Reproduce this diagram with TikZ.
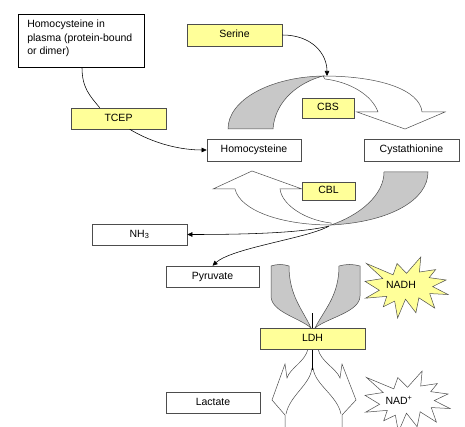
\documentclass[tikz,border=0pt]{standalone}
\usepackage{fontspec}
\setmainfont{Liberation Sans}
\usetikzlibrary{arrows.meta}
\definecolor{yel}{HTML}{FFFF99}
\definecolor{gry}{HTML}{C8C8C8}
\definecolor{edge}{HTML}{4D4D4D}
\tikzset{
  box/.style={draw=edge, line width=0.6pt, fill=white, inner sep=0pt, minimum height=21pt, minimum width=95pt, text height=7.6pt, text depth=2pt},
  ybox/.style={box, fill=yel},
  shp/.style={draw=edge, line width=0.5pt, line join=miter},
  conn/.style={draw=black, line width=0.55pt},
  tip/.style={-{Triangle[length=5pt,width=4.5pt]}},
}
\begin{document}
\begin{tikzpicture}[x=1pt,y=-1pt,font=\fontsize{10.5}{12.5}\selectfont]
\useasboundingbox (0,0) rectangle (465,427);
\clip (0,0) rectangle (465,427);
\fill[white] (0,0) rectangle (465,427);

% CBS curved arrow
\filldraw[shp,fill=gry] (228,129) .. controls (228,100) and (270,77) .. (323,76) .. controls (300,82) and (275,100) .. (273,129) -- cycle;
\filldraw[shp,fill=white] (323,76) .. controls (380,76) and (420,90) .. (422,112) -- (445,112) -- (405,129) -- (357,112) -- (378,112) .. controls (372,95) and (350,82) .. (325,79) -- cycle;

% CBL curved arrow
\filldraw[shp,fill=gry] (428,172) .. controls (428,200) and (390,222) .. (331,225) .. controls (360,215) and (384,195) .. (384,172) -- cycle;
\filldraw[shp,fill=white] (331,225) .. controls (280,225) and (240,210) .. (235,189) -- (213,189) -- (252,171) -- (302,189) -- (280,189) .. controls (282,205) and (305,220) .. (331,223) -- cycle;

\coordinate (cbstop) at (327,76);
\coordinate (cblbot) at (329,226);

% LDH tails (gray) above
\filldraw[shp,fill=gry] (271,266) .. controls (277,264) and (283,264) .. (289,266) .. controls (289,296) and (303,310) .. (311,328) .. controls (300,318) and (271,312) .. (271,296) -- cycle;
\filldraw[shp,fill=gry] (339,266) .. controls (346,264) and (353,264) .. (360,266) -- (360,296) .. controls (360,312) and (327,318) .. (315,328) .. controls (324,310) and (339,296) .. (339,266) -- cycle;
\draw[line width=1pt] (312.5,313) -- (312.5,328);

% LDH arrows (white) below
\draw[shp] (308,349) .. controls (305,362) and (290,368) .. (287,378) -- (285,364) -- (272,400) -- (285,415) -- (285,430);
\draw[shp] (312,368) .. controls (310,385) and (290,395) .. (286,414);
\draw[shp] (318,349) .. controls (321,362) and (336,368) .. (340,378) -- (342,364) -- (356,400) -- (342,415) -- (342,430);
\draw[shp] (313,368) .. controls (315,385) and (337,395) .. (341,414);
\draw[line width=1pt] (312.5,349) -- (312.5,370);

% NADH burst
\begin{scope}[shift={(365,257)}, xscale=83/216, yscale=61/216]
\filldraw[shp,fill=yel] (108,58) -- (145.22,0) -- (141.55,53.25) -- (183.8,44.57) -- (167.02,73.15) -- (210.97,81.37) -- (176.07,104.75) -- (216,132.9) -- (168.37,129.42) -- (181.45,180.95) -- (140.2,144.57) -- (132.47,197.37) -- (105.32,149.35) -- (84.85,216) -- (77.15,156.27) -- (47.62,176.17) -- (56.67,139.37) -- (1.35,145.87) -- (37.22,117.75) -- (0,86.15) -- (46.27,76.17) -- (3.7,22.95) -- (73.12,63.2) -- (83.52,22.95) -- cycle;
\end{scope}
% NAD+ burst
\begin{scope}[shift={(365,371)}, xscale=85/216, yscale=61/216]
\filldraw[shp,fill=white] (108,58) -- (145.22,0) -- (141.55,53.25) -- (183.8,44.57) -- (167.02,73.15) -- (210.97,81.37) -- (176.07,104.75) -- (216,132.9) -- (168.37,129.42) -- (181.45,180.95) -- (140.2,144.57) -- (132.47,197.37) -- (105.32,149.35) -- (84.85,216) -- (77.15,156.27) -- (47.62,176.17) -- (56.67,139.37) -- (1.35,145.87) -- (37.22,117.75) -- (0,86.15) -- (46.27,76.17) -- (3.7,22.95) -- (73.12,63.2) -- (83.52,22.95) -- cycle;
\end{scope}

% nodes
\node[draw=black, line width=0.6pt, fill=white, anchor=north west, inner xsep=9pt, inner ysep=6pt, minimum width=126pt, minimum height=53pt] (plasma) at (18,14) {\parbox[c][41pt][t]{108pt}{\baselineskip=13.5pt Homocysteine in\\ plasma (protein-bound\\ or dimer)}};
\node[ybox, minimum height=22pt] (serine) at (234.5,35) {Serine};
\node[ybox] (tcep) at (118.5,118.5) {TCEP};
\node[box, minimum width=94pt, minimum height=22pt] (homo) at (254,150) {Homocysteine};
\node[box, minimum height=22pt] (cyst) at (411.5,150) {Cystathionine};
\node[ybox, minimum width=52pt, minimum height=20pt] (cbs) at (328,108) {CBS};
\node[ybox, minimum width=53pt, minimum height=18pt] (cbl) at (328.5,191) {CBL};
\node[box] (nh3) at (139.5,234.5) {NH\textsubscript{3}};
\node[box, minimum width=93pt] (pyr) at (212.5,276.5) {Pyruvate};
\node[box, minimum width=94pt] (lac) at (213,402.5) {Lactate};
\node[ybox, minimum width=105pt] (ldh) at (312.5,338.5) {LDH};
\node (nadh) at (401,285) {NADH};
\node (nadp) at (399,400) {NAD\textsuperscript{+}};

% connectors
\draw[conn] ([xshift=64pt]plasma.south west) .. controls +(0,20) and +(-10,-12) .. ([xshift=29pt]tcep.north west);
\draw[conn,tip] ([xshift=59pt]tcep.south west) .. controls +(25,15) and +(-25,0) .. (homo.west);
\draw[conn,tip] (serine.east) .. controls +(30,0) and +(0,-22) .. (cbstop);
\draw[conn,tip] (cblbot) .. controls +(-30,8) and +(40,0) .. (nh3.east);
\draw[conn,tip] (cblbot) .. controls +(-20,12) and +(20,-18) .. (pyr.north);
\end{tikzpicture}
\end{document}
